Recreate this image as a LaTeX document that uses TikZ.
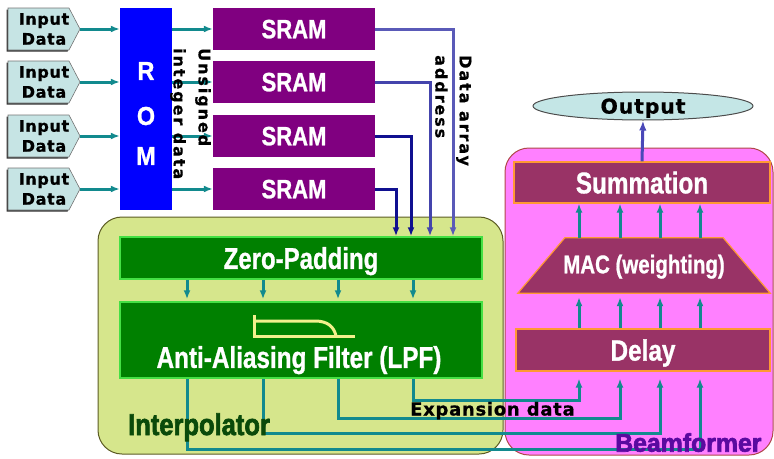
\documentclass[tikz,border=0pt]{standalone}
\usepackage{fontspec}
\usepackage{graphicx}
\usetikzlibrary{arrows.meta,calc,shapes.geometric}

\newfontfamily\boxfont{Liberation Sans}[BoldFeatures={FakeBold=1}]
\newfontfamily\heavyfont{Liberation Sans}[BoldFeatures={FakeBold=2.5}]
\newfontfamily\lblfont{DejaVu Sans}[LetterSpace=4,BoldFeatures={FakeBold=0.6}]
\newfontfamily\lblwide{DejaVu Sans}[LetterSpace=12,BoldFeatures={FakeBold=0.6}]
% condensed bold box text: size, horizontal scale, text
\newcommand\condtext[3]{{\boxfont\bfseries\fontsize{#1}{#1}\selectfont\scalebox{#2}[1]{#3}}}
\newcommand\heavytext[3]{{\heavyfont\bfseries\fontsize{#1}{#1}\selectfont\scalebox{#2}[1]{#3}}}

\definecolor{inputc}{HTML}{C6E4E4}
\definecolor{tealc}{HTML}{128A8E}
\definecolor{romc}{HTML}{0000FF}
\definecolor{sramc}{HTML}{800080}
\definecolor{navyA}{HTML}{5A5AB8}
\definecolor{navyB}{HTML}{101090}
\definecolor{interc}{HTML}{D6E68C}
\definecolor{interedge}{HTML}{5C5C24}
\definecolor{greenc}{HTML}{008000}
\definecolor{greenedge}{HTML}{44E044}
\definecolor{filterc}{HTML}{F2F08C}
\definecolor{beamc}{HTML}{FF80FF}
\definecolor{beamedge}{HTML}{B04848}
\definecolor{maroonc}{HTML}{993366}
\definecolor{orangec}{HTML}{FF9933}
\definecolor{outc}{HTML}{C4E6E6}
\definecolor{outarrow}{HTML}{4A48B8}
\definecolor{interlbl}{HTML}{0A4A0A}
\definecolor{beamlbl}{HTML}{5A0AA0}

\begin{document}
\begin{tikzpicture}[x=1pt,y=-1pt,
  tealarrow/.style={draw=tealc, line width=3pt, -{Latex[length=9pt,width=7pt]}},
  navyarrow/.style={line width=3pt, -{Latex[length=9pt,width=7pt]}},
  intext/.style={minimum width=72pt, minimum height=42pt, inner sep=0pt, align=center,
    font=\lblfont\bfseries\fontsize{16}{20}\selectfont},
  srambox/.style={fill=sramc, draw=none, minimum width=162pt, minimum height=42pt,
    inner sep=0pt, text=white, text depth=0pt},
  greenbox/.style={fill=greenc, draw=greenedge, line width=1.5pt, inner sep=0pt,
    text=white, text depth=0pt},
  maroonbox/.style={fill=maroonc, draw=orangec, line width=1.2pt, inner sep=0pt,
    text=white, text depth=0pt},
  region/.style={rounded corners=24pt, line width=1pt},
  vlabel/.style={rotate=-90, anchor=south west, inner sep=0pt,
    font=\lblwide\bfseries\fontsize{16}{16}\selectfont}
]
\useasboundingbox (0,0) rectangle (774,458);

% grouping regions
\filldraw[region, fill=beamc, draw=beamedge] (505,148) rectangle (773,455);
\filldraw[region, fill=interc, draw=interedge] (98,217) rectangle (503,454);

% column coordinates
\foreach \k/\vx in {1/187,2/263,3/338,4/413} {\coordinate (i\k) at (\vx,0);}
\foreach \k/\vx in {1/579,2/620,3/660,4/700} {\coordinate (b\k) at (\vx,0);}
\foreach \k/\vx in {1/453,2/430,3/411,4/396} {\coordinate (v\k) at (\vx,0);}
\foreach \k/\vy in {1/449,2/433,3/418,4/400} {\coordinate (h\k) at (0,\vy);}

% ROM
\node[fill=romc, minimum width=52pt, minimum height=202pt, inner sep=0pt] (rom) at (146,109) {};
\node[text=white, inner sep=0pt] (romR) at (146,71) {\condtext{26}{0.9}{R}};
\node[text=white, inner sep=0pt] (romO) at (146,116) {\condtext{26}{0.9}{O}};
\node[text=white, inner sep=0pt] (romM) at (146,156) {\condtext{26}{0.9}{M}};

% inputs and SRAM banks
\foreach \k/\yc in {1/29,2/82,3/136,4/189} {
  \fill[black!80, shift={(-1.5,1.5)}] (8,\yc-21) -- (69,\yc-21) -- (80,\yc) -- (69,\yc+21) -- (8,\yc+21) -- cycle;
  \filldraw[fill=inputc, draw=black!55, line width=0.6pt] (8,\yc-21) -- (69,\yc-21) -- (80,\yc) -- (69,\yc+21) -- (8,\yc+21) -- cycle;
  \node[intext] (in\k) at (44,\yc) {Input\\Data};
  \node[srambox] (sr\k) at (294,\yc) {\condtext{26.5}{0.83}{SRAM}};
  \draw[tealarrow] (in\k.east) -- (rom.west |- in\k.east);
  \draw[tealarrow] (rom.east |- sr\k.west) -- (sr\k.west);
}

% interpolator blocks
\node[greenbox, minimum width=362pt, minimum height=42pt] (zp) at (301,258) {\condtext{30}{0.8}{Zero-Padding}};
\node[greenbox, minimum width=362pt, minimum height=76pt] (aaf) at (301,340) {};
\node[text=white, inner sep=0pt, text depth=0pt] (aaftext) at (299,357) {\condtext{30}{0.81}{Anti-Aliasing Filter (LPF)}};
% low-pass response sketch
\draw[filterc, line width=3pt] (254,315) -- (254,336) -- (355,336);
\draw[filterc, line width=3pt] (254,321) -- (315,321) .. controls (328,321) and (334,327) .. (336,336);

% SRAM outputs into zero-padding
\draw[navyarrow, draw=navyA] (sr1.east) -| (zp.north -| v1);
\draw[navyarrow, draw=navyA!70!navyB] (sr2.east) -| (zp.north -| v2);
\draw[navyarrow, draw=navyB] (sr3.east) -| (zp.north -| v3);
\draw[navyarrow, draw=navyB] (sr4.east) -| (zp.north -| v4);

% zero-padding to filter
\foreach \k in {1,2,3,4} {
  \draw[tealarrow, shorten >=2pt] (zp.south -| i\k) -- (aaf.north -| i\k);
}

% beamformer blocks
\node[ellipse, fill=outc, draw=black!70, line width=1pt, minimum width=220pt, minimum height=28pt,
  inner sep=0pt, text depth=0pt, font=\lblfont\bfseries\fontsize{20.5}{20.5}\selectfont] (out) at (643,106) {Output};
\node[maroonbox, minimum width=256pt, minimum height=41pt] (sum) at (642,182.5) {\condtext{30}{0.81}{Summation}};
\node[minimum width=252pt, minimum height=55pt, inner sep=0pt] (mac) at (644,265.5) {};
\filldraw[fill=maroonc, draw=orangec, line width=1.2pt]
  (mac.south west) -- (mac.south east) -- ([xshift=-47pt]mac.north east) -- ([xshift=47pt]mac.north west) -- cycle;
\node[text=white, inner sep=0pt, text depth=0pt] (mactext) at (644,264) {\condtext{25.6}{0.8}{MAC (weighting)}};
\node[maroonbox, minimum width=254pt, minimum height=42pt] (delay) at (643,350) {\condtext{29.3}{0.83}{Delay}};

\draw[line width=3pt, draw=outarrow, -{Latex[length=10pt,width=7.5pt]}] (sum.north) -- (out.south);
\foreach \k in {1,2,3,4} {
  \draw[tealarrow] (mac.north -| b\k) -- (sum.south -| b\k);
  \draw[tealarrow, shorten >=4pt] (delay.north -| b\k) -- (mac.south -| b\k);
}

% expansion data from the filter to the delay stage
\draw[tealarrow, shorten >=7pt] (aaf.south -| i4) -- (i4 |- h4) -- (b1 |- h4) -- (delay.south -| b1);
\draw[tealarrow, shorten >=7pt] (aaf.south -| i3) -- (i3 |- h3) -- (b2 |- h3) -- (delay.south -| b2);
\draw[tealarrow, shorten >=7pt] (aaf.south -| i2) -- (i2 |- h2) -- (b3 |- h2) -- (delay.south -| b3);
\draw[tealarrow, shorten >=7pt] (aaf.south -| i1) -- (i1 |- h1) -- (b4 |- h1) -- (delay.south -| b4);

% labels
\node[anchor=base west, inner sep=0pt, font=\lblfont\bfseries\fontsize{18}{18}\selectfont] (explbl) at (410,415.5) {Expansion data};
\node[vlabel] (lblu) at (195,48) {Unsigned};
\node[vlabel] (lbli) at (170,48) {integer data};
\node[vlabel] (lbld) at (456,55) {Data array};
\node[vlabel] (lbla) at (435,55) {address};
\node[anchor=base west, inner sep=0pt, text=interlbl] (interlabel) at (128,435) {\heavytext{30}{0.85}{Interpolator}};
\node[anchor=base west, inner sep=0pt, text=beamlbl] (beamlabel) at (615,451.7) {\heavytext{25.6}{0.97}{Beamformer}};
\end{tikzpicture}
\end{document}
